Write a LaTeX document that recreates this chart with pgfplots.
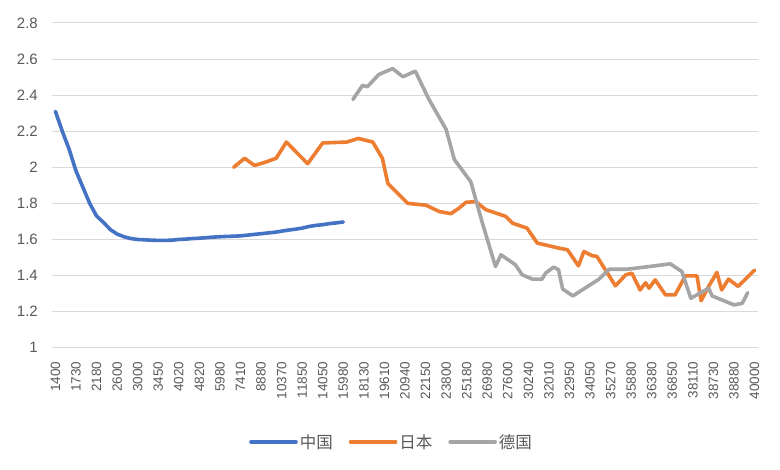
\documentclass[border=0pt]{standalone}
\usepackage{pgfplots}
\pgfplotsset{compat=1.18}
\usepackage{pgfplotstable}
\usepackage{fontspec}
\setmainfont{Liberation Sans}
\newfontfamily\cjk{Noto Sans CJK SC}

\definecolor{cnblue}{HTML}{4472C4}
\definecolor{jporange}{HTML}{ED7D31}
\definecolor{degray}{HTML}{A5A5A5}
\definecolor{gridgray}{HTML}{D9D9D9}
\definecolor{labelgray}{HTML}{595959}

% x = category index (a label every 3 categories)
\pgfplotstableread{
x y
0 2.31
1 2.20
2 2.10
3 1.98
4 1.89
5 1.80
6 1.73
7 1.695
8 1.655
9 1.63
10 1.615
11 1.605
12 1.60
13 1.598
14 1.596
15 1.595
16 1.595
17 1.596
18 1.60
19 1.602
20 1.605
21 1.607
22 1.61
23 1.613
24 1.615
25 1.617
26 1.618
27 1.62
28 1.624
29 1.628
30 1.632
31 1.636
32 1.64
33 1.646
34 1.652
35 1.657
36 1.663
37 1.672
38 1.678
39 1.682
40 1.688
41 1.692
42 1.697
}\china

\pgfplotstableread{
x y
26 2.00
27.6 2.05
29.05 2.01
30.75 2.03
32.2 2.05
33.7 2.14
36.8 2.02
39 2.135
42.5 2.14
44.2 2.16
46.3 2.14
47.7 2.05
48.5 1.91
51.4 1.80
54.05 1.79
56 1.755
57.7 1.743
58.9 1.774
59.9 1.806
61.3 1.81
62.8 1.765
65.7 1.728
66.7 1.69
68.8 1.663
70.3 1.58
73.45 1.552
74.7 1.543
76.3 1.454
77.1 1.533
78.3 1.51
79 1.506
81.7 1.343
83.2 1.404
84.1 1.413
85.3 1.32
86.1 1.36
86.6 1.33
87.5 1.376
89 1.293
90.4 1.293
91.9 1.398
93.6 1.398
94.2 1.26
95.3 1.34
96.5 1.417
97.2 1.32
98.2 1.38
99.6 1.34
102 1.43
}\japan

\pgfplotstableread{
x y
43.4 2.376
44.8 2.454
45.5 2.447
47.2 2.515
49.2 2.547
50.7 2.502
52.5 2.533
54.5 2.376
57 2.21
58.2 2.043
60.6 1.92
62.3 1.69
64.2 1.45
65 1.515
67.1 1.46
68.1 1.404
69.6 1.38
71 1.38
71.5 1.413
72.7 1.447
73.4 1.432
74 1.325
75.5 1.287
79.3 1.38
80.8 1.435
83.4 1.435
87.5 1.454
89.7 1.465
91.4 1.422
92.7 1.274
95.3 1.33
95.8 1.287
99 1.237
100.2 1.246
101 1.305
}\germany

\begin{document}
\begin{tikzpicture}[x=1pt,y=1pt]
\useasboundingbox (-52pt,-122.3pt) rectangle (728pt,347.7pt);
\begin{axis}[
    at={(0pt,0pt)}, anchor=south west,
    scale only axis,
    width=706pt, height=324.7pt,
    xmin=-0.5, xmax=102.5,
    ymin=1, ymax=2.8,
    xtick={0,3,...,102},
    xticklabels={1400,1730,2180,2600,3000,3450,4020,4820,5980,7410,8880,10370,11850,14050,15980,18130,19610,20940,22150,23800,25180,26980,27600,30240,32010,32950,34050,35270,35880,36380,36850,38110,38730,38880,40000},
    ytick={1,1.2,...,2.8},
    yticklabels={1,1.2,1.4,1.6,1.8,2,2.2,2.4,2.6,2.8},
    axis line style={draw=none},
    major tick length=0pt,
    ymajorgrids=true,
    grid style={gridgray, line width=1pt},
    tick label style={labelgray, inner sep=1pt},
    yticklabel style={font=\fontsize{15}{17}\selectfont},
    xticklabel style={font=\fontsize{13.5}{15}\selectfont, rotate=90, anchor=east},
    xticklabel shift=13pt,
    yticklabel shift=13pt,
    /pgf/number format/assume math mode=true,
    legend style={at={(0.481,-0.29)}, anchor=center, draw=none, fill=none,
        legend columns=3, font=\fontsize{16.5}{18}\selectfont\cjk, text=labelgray,
        /tikz/every even column/.append style={column sep=14pt}},
    legend image code/.code={\draw[#1] (0pt,0pt) -- (45pt,0pt);},
    every axis plot/.append style={line width=3.6pt, line join=round, line cap=round},
]
\addplot[cnblue] table[x=x, y=y] {\china};
\addlegendentry{中国}
\addplot[jporange] table[x=x, y=y] {\japan};
\addlegendentry{日本}
\addplot[degray] table[x=x, y=y] {\germany};
\addlegendentry{德国}
\end{axis}
\end{tikzpicture}
\end{document}
